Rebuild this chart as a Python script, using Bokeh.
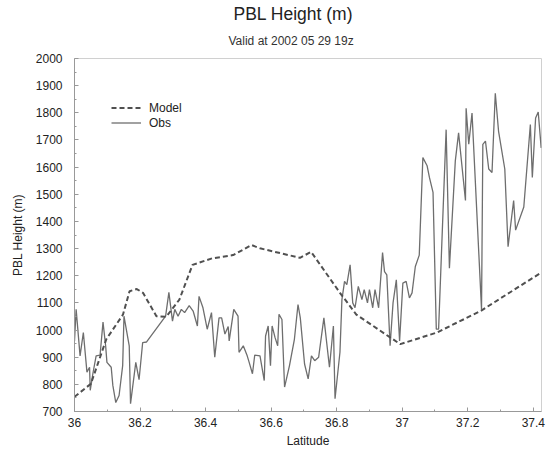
from bokeh.plotting import figure
from bokeh.models import Title, Legend, LegendItem, Range1d, FixedTicker
from bokeh.embed import file_html
from bokeh.resources import INLINE

# ---- data ----
model_lat = [36.000, 36.050, 36.097, 36.148, 36.168, 36.190, 36.209, 36.250, 36.280,
             36.320, 36.360, 36.420, 36.484, 36.540, 36.566, 36.688, 36.722, 36.810,
             36.860, 36.963, 36.994, 37.106, 37.239, 37.422]
model_pbl = [754, 802, 966, 1057, 1143, 1151, 1137, 1051, 1049,
             1112, 1240, 1264, 1276, 1313, 1301, 1266, 1288, 1137,
             1057, 973, 948, 991, 1070, 1210]

obs_lat = [36.000, 36.005, 36.017, 36.027, 36.038, 36.046, 36.048, 36.056, 36.066, 36.078,
           36.087, 36.095, 36.099, 36.112, 36.117, 36.126, 36.136, 36.147, 36.151, 36.167,
           36.171, 36.187, 36.197, 36.208, 36.220, 36.278, 36.288, 36.299, 36.306, 36.316,
           36.326, 36.336, 36.350, 36.362, 36.375, 36.380, 36.392, 36.405, 36.418, 36.428,
           36.441, 36.449, 36.459, 36.469, 36.472, 36.486, 36.499, 36.502, 36.515, 36.527,
           36.533, 36.543, 36.550, 36.566, 36.579, 36.583, 36.591, 36.598, 36.603, 36.612,
           36.620, 36.624, 36.633, 36.641, 36.656, 36.671, 36.682, 36.689, 36.702, 36.713,
           36.723, 36.733, 36.745, 36.761, 36.778, 36.790, 36.795, 36.810, 36.816, 36.824,
           36.831, 36.841, 36.849, 36.856, 36.866, 36.877, 36.884, 36.894, 36.900, 36.910,
           36.917, 36.928, 36.940, 36.946, 36.953, 36.963, 36.972, 36.982, 36.992, 37.002,
           37.012, 37.022, 37.030, 37.040, 37.052, 37.063, 37.076, 37.083, 37.094, 37.104,
           37.111, 37.134, 37.144, 37.162, 37.172, 37.193, 37.195, 37.203, 37.213, 37.242,
           37.246, 37.254, 37.264, 37.274, 37.284, 37.294, 37.313, 37.323, 37.340, 37.346,
           37.371, 37.391, 37.397, 37.407, 37.415, 37.424]
obs_pbl = [960, 1076, 905, 991, 845, 863, 778, 839, 905, 908,
           1029, 942, 881, 863, 796, 733, 759, 869, 1051, 942,
           729, 881, 817, 954, 956, 1051, 1139, 1033, 1076, 1051,
           1076, 1064, 1090, 1070, 1015, 1124, 1082, 1003, 1064, 900,
           1045, 1045, 985, 1013, 960, 1076, 1051, 918, 942, 905,
           881, 839, 908, 905, 814, 978, 1015, 869, 1015, 972,
           942, 1058, 1039, 790, 869, 966, 1094, 1045, 875, 820,
           905, 887, 900, 1045, 863, 1015, 747, 918, 1112, 1179,
           1167, 1240, 1100, 1082, 1161, 1112, 1149, 1100, 1149, 1082,
           1149, 1082, 1285, 1215, 1203, 942, 1100, 1185, 960, 1173,
           1179, 1118, 1137, 1234, 1276, 1635, 1605, 1562, 1507, 1003,
           1003, 1738, 1228, 1623, 1726, 1477, 1817, 1684, 1799, 1076,
           1684, 1696, 1593, 1580, 1872, 1732, 1593, 1307, 1477, 1368,
           1453, 1757, 1562, 1781, 1803, 1671]

x_ticks = [36.0, 36.2, 36.4, 36.6, 36.8, 37.0, 37.2, 37.4]
x_tick_labels = {36.0: "36", 36.2: "36.2", 36.4: "36.4", 36.6: "36.6",
                 36.8: "36.8", 37.0: "37", 37.2: "37.2", 37.4: "37.4"}
y_ticks = list(range(700, 2001, 100))

FONT = "Liberation Sans"

p = figure(width=548, height=450, output_backend="svg", toolbar_location=None,
           title=None, x_range=Range1d(36.0, 37.425), y_range=Range1d(700, 2000),
           min_border_left=74, min_border_right=7, min_border_top=0, min_border_bottom=37)

p.background_fill_color = "white"
p.border_fill_color = "white"
p.outline_line_color = "#d0d0d0"
p.outline_line_width = 1
p.xgrid.visible = False
p.ygrid.visible = False

spacer = Title(text=" ", text_font=FONT, text_font_size="1px", standoff=1)
sub = Title(text="Valid at 2002 05 29 19z", text_font=FONT, text_font_size="12px",
            text_font_style="normal", text_color="#333333", align="left", offset=154,
            standoff=14)
main = Title(text="PBL Height (m)", text_font=FONT, text_font_size="17.5px",
             text_font_style="normal", text_color="#222222", align="left", offset=159,
             standoff=2)
p.add_layout(spacer, "above")
p.add_layout(sub, "above")
p.add_layout(main, "above")

for ax in (p.xaxis[0], p.yaxis[0]):
    ax.axis_line_color = "#999999"
    ax.major_tick_line_color = "#999999"
    ax.minor_tick_line_color = "#999999"
    ax.major_tick_in = 4
    ax.major_tick_out = 0
    ax.minor_tick_in = 2
    ax.minor_tick_out = 0
    ax.major_label_text_font = FONT
    ax.major_label_text_font_size = "12px"
    ax.major_label_text_color = "#222222"
    ax.axis_label_text_font = FONT
    ax.axis_label_text_font_size = "12px"
    ax.axis_label_text_font_style = "normal"
    ax.axis_label_text_color = "#222222"

p.xaxis.ticker = FixedTicker(ticks=x_ticks,
                             minor_ticks=[36 + 0.1 * i for i in range(15)])
p.xaxis.major_label_overrides = x_tick_labels
p.xaxis.axis_label = "Latitude"
p.xaxis.major_label_standoff = 6
p.xaxis.axis_label_standoff = 4

p.yaxis.ticker = FixedTicker(ticks=y_ticks,
                             minor_ticks=[650 + 100 * i for i in range(15)])
p.yaxis.axis_label = "PBL Height (m)"
p.yaxis.major_label_standoff = 12
p.yaxis.axis_label_standoff = 8

r_obs = p.line(obs_lat, obs_pbl, line_color="#6e6e6e", line_width=1.3)
r_model = p.line(model_lat, model_pbl, line_color="#505050", line_width=2,
                 line_dash="5 3")

legend = Legend(items=[LegendItem(label="Model", renderers=[r_model]),
                       LegendItem(label="Obs", renderers=[r_obs])],
                location=(37, 281), padding=0, margin=0, spacing=0,
                glyph_width=30, glyph_height=15, label_height=15,
                label_standoff=8, label_text_font=FONT, label_text_font_size="12px",
                label_text_color="#222222",
                border_line_alpha=0, background_fill_alpha=0)
p.add_layout(legend, "center")

open("out.html", "w").write(file_html(p, INLINE))
